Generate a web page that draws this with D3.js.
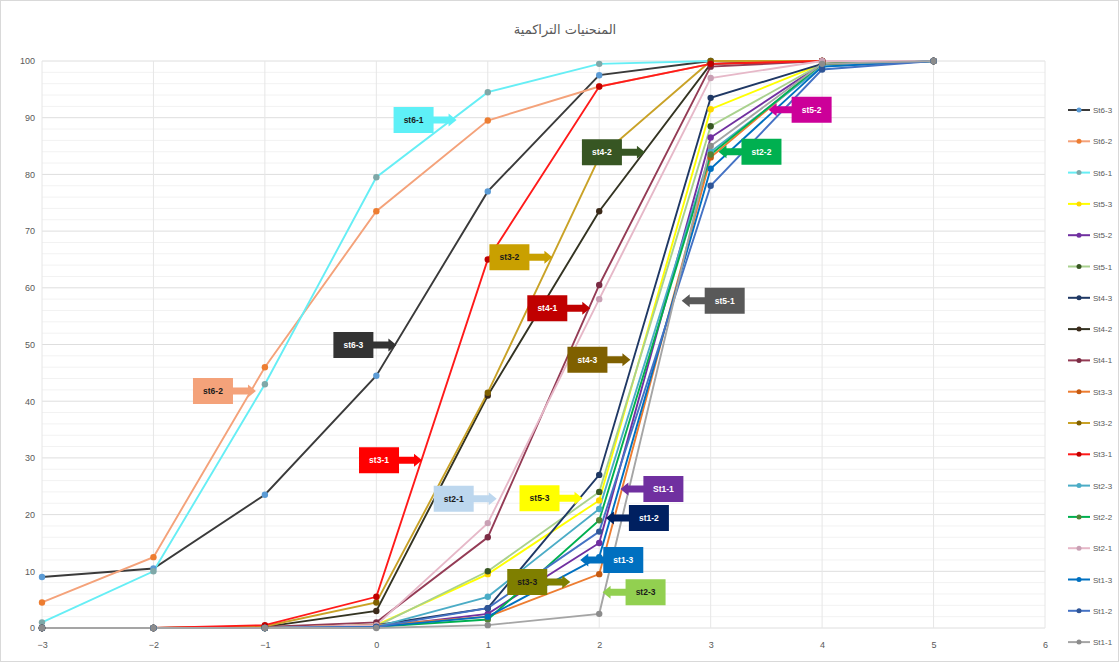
<!DOCTYPE html>
<html>
<head>
<meta charset="utf-8">
<script src="https://cdn.jsdelivr.net/npm/d3@7"></script>
<style>
  body { margin: 0; background: #fff; }
  svg { display: block; font-family: "Liberation Sans", Arial, sans-serif; }
</style>
</head>
<body>
<svg id="chart" width="1119" height="662"></svg>
<script>
'use strict';

// x positions of the points, and the axis ticks
const xValues = [-3, -2, -1, 0, 1, 2, 3, 4, 5];
const xTicks = [-3, -2, -1, 0, 1, 2, 3, 4, 5, 6];
const yTicks = [0, 10, 20, 30, 40, 50, 60, 70, 80, 90, 100];

const seriesNames = ["St6-3", "St6-2", "St6-1", "St5-3", "St5-2", "St5-1",
  "St4-3", "St4-2", "St4-1", "St3-3", "St3-2", "St3-1",
  "St2-3", "St2-2", "St2-1", "St1-3", "St1-2", "St1-1"];

// cumulative %, one value per xValues entry
const st6_3 = [9, 10.5, 23.5, 44.5, 77, 97.5, 100, 100, 100];
const st6_2 = [4.5, 12.5, 46, 73.5, 89.5, 95.5, 99.5, 100, 100];
const st6_1 = [1, 10, 43, 79.5, 94.5, 99.5, 100, 100, 100];
const st5_3 = [0, 0, 0, 0.5, 9.5, 22.5, 91.5, 99.5, 100];
const st5_2 = [0, 0, 0, 0.2, 2.5, 15, 86.5, 99.5, 100];
const st5_1 = [0, 0, 0, 0.3, 10, 24, 88.5, 99.5, 100];
const st4_3 = [0, 0, 0, 0.5, 3.5, 27, 93.5, 99.5, 100];
const st4_2 = [0, 0, 0.2, 3, 41, 73.5, 99.5, 100, 100];
const st4_1 = [0, 0, 0.2, 1, 16, 60.5, 99, 100, 100];
const st3_3 = [0, 0, 0, 0.5, 2, 9.5, 83, 99.5, 100];
const st3_2 = [0, 0, 0.3, 4.5, 41.5, 83, 100, 100, 100];
const st3_1 = [0, 0, 0.5, 5.5, 65, 95.5, 99.5, 100, 100];
const st2_3 = [0, 0, 0, 0.2, 5.5, 21, 84, 99, 100];
const st2_2 = [0, 0, 0, 0.2, 1.5, 19, 83.5, 99.5, 100];
const st2_1 = [0, 0, 0, 0.5, 18.5, 58, 97, 100, 100];
const st1_3 = [0, 0, 0, 0.2, 2, 12.5, 81, 99, 100];
const st1_2 = [0, 0, 0, 0.2, 3.5, 17, 78, 98.5, 100];
const st1_1 = [0, 0, 0, 0, 0.5, 2.5, 85, 99.5, 100];

const seriesValues = [st6_3, st6_2, st6_1, st5_3, st5_2, st5_1, st4_3, st4_2, st4_1,
  st3_3, st3_2, st3_1, st2_3, st2_2, st2_1, st1_3, st1_2, st1_1];

const lineColors = ["#3a3a3a", "#f4a27a", "#66eef5", "#ffff00", "#7030a0", "#a9d18e",
  "#1f3864", "#333322", "#943b55", "#ed7d31", "#c9a227", "#ff1a1a",
  "#4bacc6", "#00b050", "#e6b8c8", "#0070c0", "#4472c4", "#a5a5a5"];
const markerColors = ["#5b9bd5", "#ed7d31", "#7fa8a8", "#ffd700", "#7030a0", "#385723",
  "#1f3864", "#3b2a1a", "#7b2c45", "#c55a11", "#7f6000", "#c00000",
  "#4bacc6", "#548235", "#c9a0b4", "#0070c0", "#2f5597", "#8c8c8c"];

// callouts: text, tip point in data units, side of the box relative to the tip
const callouts = [
  { text: "st6-1", x: 0.72, y: 89.6, side: "left", fill: "#5ef0f7", ink: "#1a1a1a" },
  { text: "st6-2", x: -1.08, y: 41.8, side: "left", fill: "#f4a27a", ink: "#1a1a1a" },
  { text: "st6-3", x: 0.18, y: 49.9, side: "left", fill: "#333333", ink: "#ffffff" },
  { text: "st3-1", x: 0.41, y: 29.6, side: "left", fill: "#ff0000", ink: "#ffffff" },
  { text: "st3-2", x: 1.58, y: 65.4, side: "left", fill: "#c9a000", ink: "#1a1a1a" },
  { text: "st4-1", x: 1.92, y: 56.4, side: "left", fill: "#c00000", ink: "#ffffff" },
  { text: "st4-2", x: 2.41, y: 83.9, side: "left", fill: "#375623", ink: "#ffffff" },
  { text: "st4-3", x: 2.28, y: 47.3, side: "left", fill: "#7f6000", ink: "#ffffff" },
  { text: "st5-1", x: 2.74, y: 57.7, side: "right", fill: "#595959", ink: "#ffffff" },
  { text: "st5-2", x: 3.52, y: 91.4, side: "right", fill: "#cc0099", ink: "#ffffff" },
  { text: "st2-2", x: 3.07, y: 84.0, side: "right", fill: "#00b050", ink: "#ffffff" },
  { text: "st2-1", x: 1.08, y: 22.8, side: "left", fill: "#bdd7ee", ink: "#1a1a1a" },
  { text: "st5-3", x: 1.85, y: 22.9, side: "left", fill: "#ffff00", ink: "#1a1a1a" },
  { text: "St1-1", x: 2.19, y: 24.5, side: "right", fill: "#7030a0", ink: "#ffffff" },
  { text: "st1-2", x: 2.06, y: 19.4, side: "right", fill: "#002060", ink: "#ffffff" },
  { text: "st1-3", x: 1.83, y: 12.0, side: "right", fill: "#0070c0", ink: "#ffffff" },
  { text: "st3-3", x: 1.74, y: 8.1, side: "left", fill: "#7f7f00", ink: "#1a1a1a" },
  { text: "st2-3", x: 2.03, y: 6.3, side: "right", fill: "#92d050", ink: "#1a1a1a" }
];

const W = 1119, H = 662;
const svg = d3.select("#chart");

// outer frame
svg.append("rect")
  .attr("x", 0.5).attr("y", 0.5)
  .attr("width", W - 1).attr("height", H - 1)
  .attr("fill", "#fff")
  .attr("stroke", "#d9d9d9");

const x = d3.scaleLinear().domain([-3, 6]).range([42, 1045]);
const y = d3.scaleLinear().domain([0, 100]).range([628, 61]);

// grid: minor every 2, major every 10, vertical at each unit
const grid = svg.append("g");
grid.selectAll(".minor")
  .data(d3.range(0, 101, 2).filter((v) => v % 10 !== 0))
  .enter().append("line")
    .attr("x1", x(-3)).attr("x2", x(6))
    .attr("y1", (d) => y(d)).attr("y2", (d) => y(d))
    .attr("stroke", "#f2f2f2");
grid.selectAll(".major")
  .data(yTicks)
  .enter().append("line")
    .attr("x1", x(-3)).attr("x2", x(6))
    .attr("y1", (d) => y(d)).attr("y2", (d) => y(d))
    .attr("stroke", "#dedede");
grid.selectAll(".vert")
  .data(xTicks)
  .enter().append("line")
    .attr("x1", (d) => x(d)).attr("x2", (d) => x(d))
    .attr("y1", y(0)).attr("y2", y(100))
    .attr("stroke", "#e6e6e6");

// axes
const xAxis = svg.append("g")
  .attr("transform", `translate(0,${y(0)})`)
  .call(d3.axisBottom(x).tickValues(xTicks).tickSize(0).tickPadding(14).tickFormat(d3.format("d")));
const yAxis = svg.append("g")
  .attr("transform", `translate(${x(-3)},0)`)
  .call(d3.axisLeft(y).tickValues(yTicks).tickSize(0).tickPadding(7));
[xAxis, yAxis].forEach((a) => {
  a.select(".domain").remove();
  a.selectAll("text").attr("fill", "#595959").style("font-size", "9px");
});

// title
svg.append("text")
  .attr("x", 565).attr("y", 34)
  .attr("text-anchor", "middle")
  .attr("fill", "#595959")
  .style("font-family", "'DejaVu Sans', sans-serif")
  .style("font-size", "13px")
  .text("المنحنيات التراكمية");

// series
const line = d3.line().x((d) => x(d[0])).y((d) => y(d[1]));
const series = seriesNames.map((name, i) => ({
  name: name,
  points: xValues.map((xv, j) => [xv, seriesValues[i][j]]),
  color: lineColors[i],
  marker: markerColors[i]
}));

const plot = svg.append("g");
series.forEach((s) => {
  plot.append("path")
    .attr("d", line(s.points))
    .attr("fill", "none")
    .attr("stroke", s.color)
    .attr("stroke-width", 1.9);
});
series.forEach((s) => {
  plot.selectAll(null)
    .data(s.points)
    .enter().append("circle")
      .attr("cx", (d) => x(d[0]))
      .attr("cy", (d) => y(d[1]))
      .attr("r", 3.2)
      .attr("fill", s.marker);
});

// callout boxes with arrows
const boxW = 40, boxH = 26, arrowLen = 23, shaft = 3.5, head = 6.5, headLen = 8;
const notes = svg.append("g");
callouts.forEach((c) => {
  const tx = x(c.x), ty = y(c.y);
  const dir = c.side === "left" ? -1 : 1;   // box sits on this side of the tip
  const edge = tx + dir * arrowLen;
  const far = edge + dir * boxW;
  const neck = tx + dir * headLen;
  const pts = [
    [tx, ty], [neck, ty - head], [neck, ty - shaft], [edge, ty - shaft],
    [edge, ty - boxH / 2], [far, ty - boxH / 2], [far, ty + boxH / 2],
    [edge, ty + boxH / 2], [edge, ty + shaft], [neck, ty + shaft], [neck, ty + head]
  ];
  notes.append("path")
    .attr("d", d3.line()(pts) + "Z")
    .attr("fill", c.fill);
  notes.append("text")
    .attr("x", (edge + far) / 2)
    .attr("y", ty + 3)
    .attr("text-anchor", "middle")
    .attr("fill", c.ink)
    .style("font-size", "8.5px")
    .style("font-weight", "bold")
    .text(c.text);
});

// legend
const legend = svg.append("g");
series.forEach((s, i) => {
  const ly = 110 + i * 31.3;
  legend.append("line")
    .attr("x1", 1068).attr("x2", 1090)
    .attr("y1", ly).attr("y2", ly)
    .attr("stroke", s.color)
    .attr("stroke-width", 2);
  legend.append("circle")
    .attr("cx", 1079).attr("cy", ly).attr("r", 2.5)
    .attr("fill", s.marker);
  legend.append("text")
    .attr("x", 1093).attr("y", ly + 3)
    .attr("fill", "#595959")
    .style("font-size", "8px")
    .text(s.name);
});
</script>
</body>
</html>
